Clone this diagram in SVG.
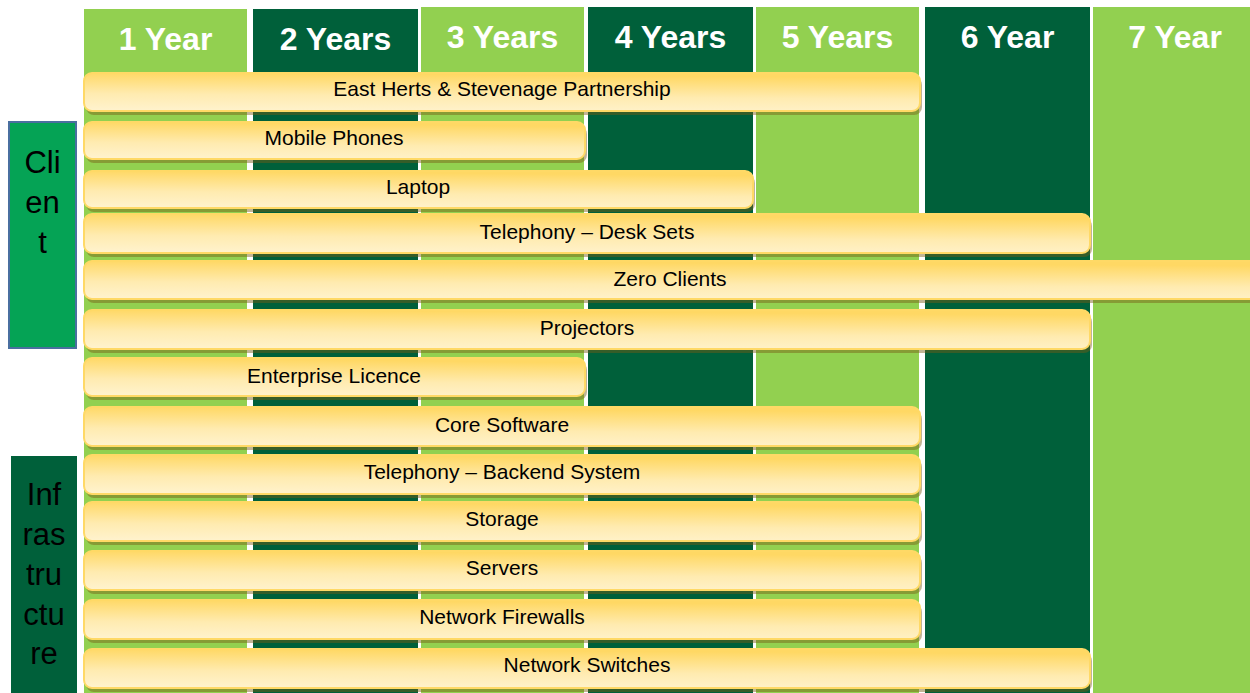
<svg xmlns="http://www.w3.org/2000/svg" width="1250" height="693" viewBox="0 0 1250 693">
<defs>
<linearGradient id="barGrad" x1="0" y1="1" x2="0.15" y2="0" gradientUnits="objectBoundingBox">
<stop offset="0" stop-color="#FFF3CF"/>
<stop offset="0.45" stop-color="#FFEBB0"/>
<stop offset="1" stop-color="#FFD864"/>
</linearGradient>
<style>
.light{fill:#92D050}
.dark{fill:#00603A}
.hdr{font-family:"Liberation Sans",Arial,sans-serif;font-weight:bold;font-size:32px;fill:#ffffff;text-anchor:middle}
.bar{fill:url(#barGrad);stroke:#FFD966;stroke-width:2}
.shadow{fill:rgb(120,90,20);fill-opacity:0.45}
.lbl{font-family:"Liberation Sans",Arial,sans-serif;font-size:21px;fill:#000000;text-anchor:middle}
.side{font-family:"Liberation Sans",Arial,sans-serif;font-size:31px;fill:#000000;text-anchor:middle}
</style>
</defs>
<rect width="1250" height="693" fill="#ffffff"/>
<g id="columns">
<g id="col1"><rect class="light" x="84" y="9" width="163" height="684"/><text class="hdr" x="165.5" y="50">1 Year</text></g>
<g id="col2"><rect class="dark" x="253" y="9" width="165" height="684"/><text class="hdr" x="335.5" y="50">2 Years</text></g>
<g id="col3"><rect class="light" x="421" y="7" width="163" height="686"/><text class="hdr" x="502.5" y="48">3 Years</text></g>
<g id="col4"><rect class="dark" x="588" y="7" width="165" height="686"/><text class="hdr" x="670.5" y="48">4 Years</text></g>
<g id="col5"><rect class="light" x="756" y="7" width="163" height="686"/><text class="hdr" x="837.5" y="48">5 Years</text></g>
<g id="col6"><rect class="dark" x="925" y="7" width="165" height="686"/><text class="hdr" x="1007.5" y="48">6 Year</text></g>
<g id="col7"><rect class="light" x="1093" y="7" width="157" height="686"/><text class="hdr" x="1175" y="48">7 Year</text></g>
</g>
<g id="client">
<rect x="9" y="122" width="67" height="226" fill="#05A355" stroke="#4A6FA0" stroke-width="2"/>
<text class="side" x="42.5" y="173">Cli</text>
<text class="side" x="42.5" y="213">en</text>
<text class="side" x="42.5" y="253">t</text>
</g>
<g id="infrastructure">
<rect x="11" y="456" width="66" height="237" fill="#00603A"/>
<text class="side" x="44" y="505">Inf</text>
<text class="side" x="44" y="545">ras</text>
<text class="side" x="44" y="585">tru</text>
<text class="side" x="44" y="625">ctu</text>
<text class="side" x="44" y="664">re</text>
</g>
<g id="bar-east-herts"><rect class="shadow" x="86" y="77" width="836" height="38" rx="8"/><rect class="bar" x="84" y="73" width="836" height="38" rx="8"/><text class="lbl" x="502" y="96">East Herts &amp; Stevenage Partnership</text></g>
<g id="bar-mobile"><rect class="shadow" x="86" y="126" width="501" height="37" rx="8"/><rect class="bar" x="84" y="122" width="501" height="37" rx="8"/><text class="lbl" x="334" y="145">Mobile Phones</text></g>
<g id="bar-laptop"><rect class="shadow" x="86" y="175" width="669" height="37" rx="8"/><rect class="bar" x="84" y="171" width="669" height="37" rx="8"/><text class="lbl" x="418" y="194">Laptop</text></g>
<g id="bar-desk-sets"><rect class="shadow" x="86" y="218" width="1006" height="39" rx="8"/><rect class="bar" x="84" y="214" width="1006" height="39" rx="8"/><text class="lbl" x="587" y="239">Telephony – Desk Sets</text></g>
<g id="bar-zero-clients"><rect class="shadow" x="86" y="265" width="1180" height="38" rx="8"/><rect class="bar" x="84" y="261" width="1180" height="38" rx="8"/><text class="lbl" x="670" y="286">Zero Clients</text></g>
<g id="bar-projectors"><rect class="shadow" x="86" y="314" width="1006" height="39" rx="8"/><rect class="bar" x="84" y="310" width="1006" height="39" rx="8"/><text class="lbl" x="587" y="335">Projectors</text></g>
<g id="bar-enterprise"><rect class="shadow" x="86" y="362" width="501" height="38" rx="8"/><rect class="bar" x="84" y="358" width="501" height="38" rx="8"/><text class="lbl" x="334" y="383">Enterprise Licence</text></g>
<g id="bar-core-software"><rect class="shadow" x="86" y="411" width="836" height="39" rx="8"/><rect class="bar" x="84" y="407" width="836" height="39" rx="8"/><text class="lbl" x="502" y="432">Core Software</text></g>
<g id="bar-backend"><rect class="shadow" x="86" y="459" width="836" height="39" rx="8"/><rect class="bar" x="84" y="455" width="836" height="39" rx="8"/><text class="lbl" x="502" y="479">Telephony – Backend System</text></g>
<g id="bar-storage"><rect class="shadow" x="86" y="506" width="836" height="39" rx="8"/><rect class="bar" x="84" y="502" width="836" height="39" rx="8"/><text class="lbl" x="502" y="526">Storage</text></g>
<g id="bar-servers"><rect class="shadow" x="86" y="555" width="836" height="39" rx="8"/><rect class="bar" x="84" y="551" width="836" height="39" rx="8"/><text class="lbl" x="502" y="575">Servers</text></g>
<g id="bar-firewalls"><rect class="shadow" x="86" y="604" width="836" height="39" rx="8"/><rect class="bar" x="84" y="600" width="836" height="39" rx="8"/><text class="lbl" x="502" y="624">Network Firewalls</text></g>
<g id="bar-switches"><rect class="shadow" x="86" y="653" width="1006" height="39" rx="8"/><rect class="bar" x="84" y="649" width="1006" height="39" rx="8"/><text class="lbl" x="587" y="672">Network Switches</text></g>
<g id="connectors"/>
</svg>
